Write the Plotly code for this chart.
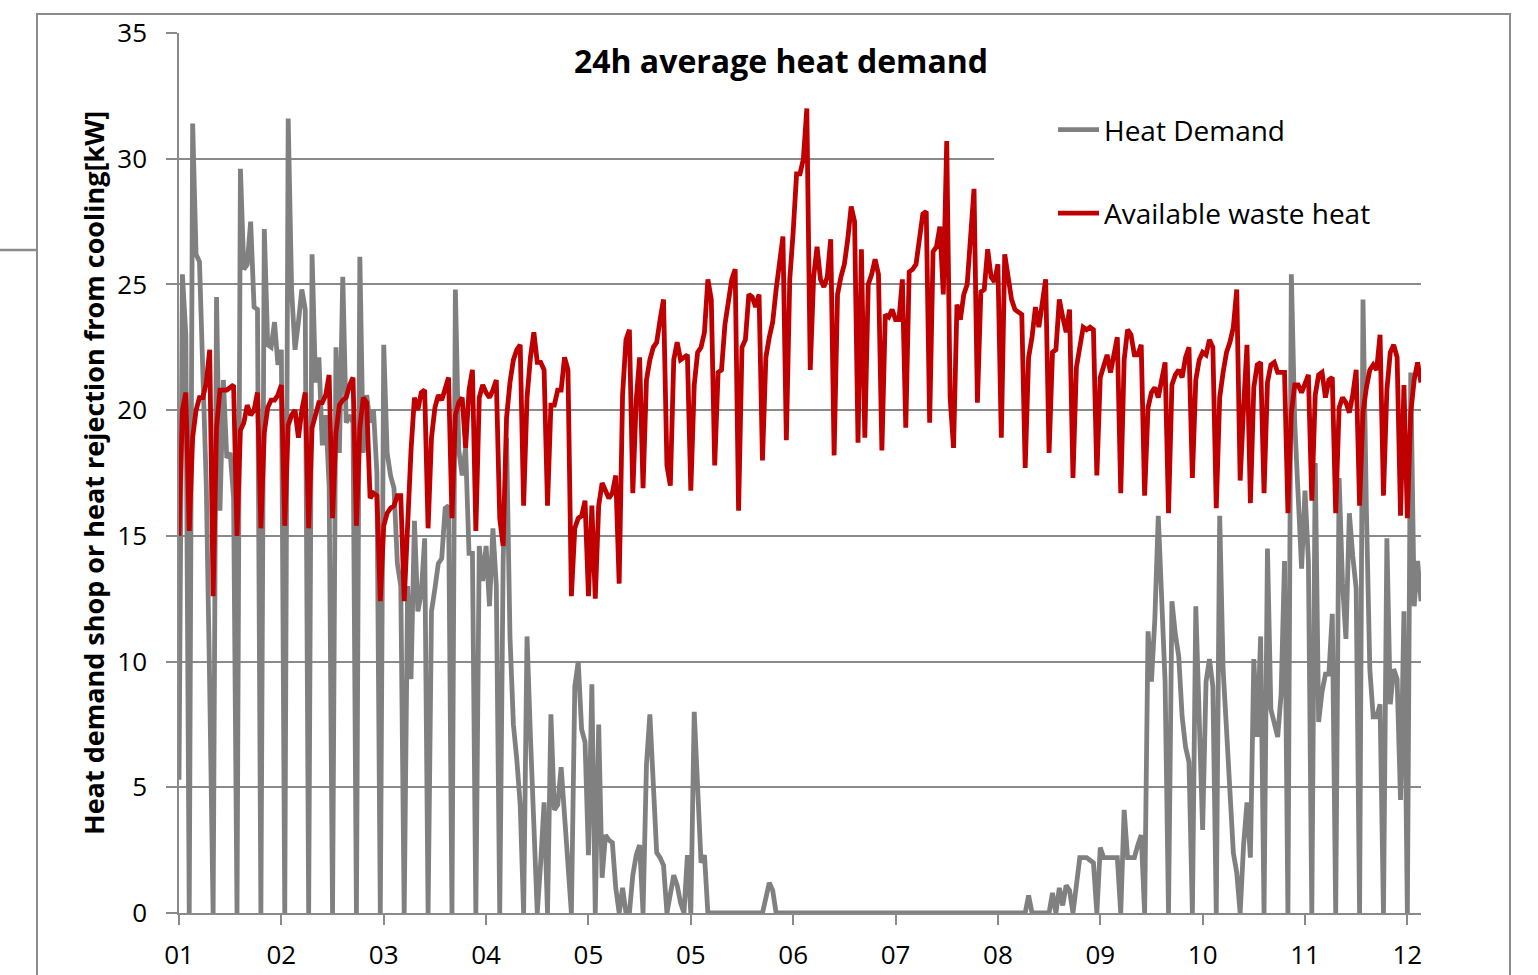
import plotly.graph_objects as go

# Day index of the year (0..364)
days = list(range(365))

# X tick positions (days) and labels
tick_days = [0, 30, 60, 90, 120, 150, 180, 210, 240, 270, 300, 330, 360]
tick_labels = ["01", "02", "03", "04", "05", "05", "06", "07", "08", "09", "10", "11", "12"]

# Available waste heat [kW], 24h average, one value per day
waste_heat = [
    15.0, 20.0, 20.7,
    15.2, 18.9, 20.0, 20.5, 20.5, 21.1, 22.4,
    12.6, 19.3, 20.8, 20.8, 20.8, 20.9, 21.0,
    15.0, 19.2, 19.5, 20.2, 19.8, 20.0, 20.7,
    15.3, 19.1, 20.1, 20.4, 20.4, 20.6, 21.0,
    15.4, 19.4, 19.8, 20.0, 18.9, 20.0, 20.7,
    15.3, 19.3, 19.9, 20.3, 20.3, 20.6, 21.4,
    15.7, 19.1, 20.2, 20.4, 20.5, 21.0, 21.3,
    15.4, 19.3, 20.5, 20.3, 16.5, 16.7, 16.6,
    12.4, 15.4, 15.9, 16.1, 16.2, 16.6, 16.6,
    12.4, 16.0, 18.4, 20.5, 20.0, 20.7, 20.8,
    15.3, 18.9, 20.1, 20.6, 20.4, 20.8, 21.3,
    15.7, 19.8, 20.3, 20.5, 18.5, 20.8, 21.6,
    15.2, 20.5, 21.0, 20.7, 20.5, 20.8, 21.2,
    15.7, 14.6, 19.7, 21.1, 22.0, 22.4, 22.6,
    16.2, 20.5, 22.1, 23.1, 21.9, 21.9, 21.6,
    16.2, 20.2, 20.2, 20.8, 20.8, 22.1, 21.6,
    12.6, 15.3, 15.7, 15.8, 16.4, 12.6, 16.2,
    12.5, 16.2, 17.1, 16.8, 16.5, 16.7, 17.4,
    13.1, 20.6, 22.8, 23.2, 16.7, 20.4, 22.1,
    16.9, 21.2, 22.0, 22.5, 22.7, 23.6, 24.4,
    17.8, 17.0, 22.0, 22.7, 22.0, 22.1, 22.2,
    16.8, 21.0, 22.3, 22.5, 23.1, 25.2, 24.4,
    17.8, 21.5, 21.6, 23.4, 24.3, 25.2, 25.6,
    16.0, 22.5, 22.8, 24.6, 24.5, 24.1, 24.6,
    18.0, 22.1, 22.9, 23.5, 24.8, 26.0, 26.9,
    18.8, 25.2, 27.1, 29.4, 29.4, 30.0, 32.0,
    21.6, 25.3, 26.5, 25.2, 24.9, 25.3, 26.8,
    18.2, 24.6, 25.3, 25.8, 26.8, 28.1, 27.5,
    18.7, 26.4, 18.9, 25.0, 25.4, 26.0, 25.4,
    18.4, 23.8, 23.7, 24.0, 23.6, 23.6, 25.2,
    19.3, 25.5, 25.6, 25.8, 26.8, 27.8, 27.9,
    19.5, 26.3, 26.5, 27.3, 24.6, 30.7, 20.5,
    18.5, 24.2, 23.6, 24.6, 25.0, 26.9, 28.8,
    20.3, 24.7, 24.8, 26.4, 25.3, 25.1, 25.8,
    18.9, 26.2, 25.2, 24.4, 24.0, 23.9, 23.8,
    17.7, 22.1, 22.9, 24.1, 23.3, 24.2, 25.2,
    18.3, 22.3, 22.4, 24.4, 23.7, 23.1, 24.0,
    17.3, 21.7, 22.6, 23.3, 23.2, 23.3, 23.2,
    17.4, 21.3, 21.8, 22.2, 21.5, 22.2, 22.9,
    16.7, 22.0, 23.2, 23.0, 22.2, 22.2, 22.6,
    16.6, 20.1, 20.7, 20.9, 20.5, 21.2, 21.9,
    15.9, 21.0, 21.4, 21.6, 21.3, 22.1, 22.5,
    17.3, 21.2, 22.0, 22.3, 22.2, 22.8, 22.5,
    16.1, 20.5, 21.5, 22.3, 22.7, 23.3, 24.8,
    17.2, 20.1, 22.6, 16.3, 20.9, 21.8, 21.9,
    16.7, 21.1, 21.8, 21.9, 21.5, 21.5, 21.5,
    15.9, 19.9, 21.0, 21.0, 20.7, 21.1, 21.4,
    16.4, 20.6, 21.4, 21.5, 20.5, 21.2, 21.3,
    15.9, 20.1, 20.5, 20.3, 19.9, 20.6, 21.6,
    16.2, 19.9, 20.9, 21.6, 21.8, 21.6, 23.0,
    16.6, 20.8, 22.3, 22.6, 22.1, 15.8, 21.0,
    15.7, 19.9, 21.2, 21.9, 21.1,
]

# Heat demand of the shop [kW], 24h average, one value per day
heat_demand = [
    5.3, 25.4, 23.0,
    0, 31.4, 26.2, 25.9, 21.5, 17.0, 9.0,
    0, 24.5, 16.0, 21.2, 18.1, 18.3, 16.5,
    0, 29.6, 25.6, 25.8, 27.5, 24.1, 24.0,
    0, 27.2, 22.6, 22.5, 23.5, 21.8, 22.4,
    0, 31.6, 24.8, 22.4, 23.5, 24.8, 24.0,
    0, 26.2, 21.1, 22.1, 18.6, 19.8, 17.0,
    0, 22.5, 18.3, 25.3, 19.5, 19.8, 19.5,
    0, 26.1, 18.3, 20.6, 19.5, 20.0, 17.5,
    0, 22.6, 18.3, 17.4, 16.9, 13.9, 13.0,
    0, 13.0, 9.3, 15.6, 12.0, 12.7, 14.9,
    0, 12.0, 12.9, 13.9, 14.1, 16.1, 16.2,
    0, 24.8, 18.4, 17.4, 18.5, 14.3, 14.3,
    0, 14.6, 13.2, 14.6, 12.2, 15.3, 13.0,
    0, 14.0, 18.9, 11.0, 7.5, 6.1, 4.3,
    0, 11.0, 7.0, 3.3, 0, 2.0, 4.4,
    0, 7.9, 4.1, 4.3, 5.8, 3.7, 1.8,
    0, 9.0, 10.0, 7.3, 6.8, 2.3, 9.1,
    0, 7.5, 1.4, 3.1, 2.9, 2.8, 1.0,
    0, 1.0, 0, 0, 1.5, 2.3, 2.7,
    0, 5.9, 7.9, 5.5, 2.4, 2.2, 1.9,
    0, 0.8, 1.5, 1.1, 0.4, 0, 2.3,
    0, 8.0, 5.0, 2.0, 2.3, 0, 0,
    0, 0, 0, 0, 0, 0, 0,
    0, 0, 0, 0, 0, 0, 0,
    0, 0.6, 1.2, 0.9, 0, 0, 0,
    0, 0, 0, 0, 0, 0, 0,
    0, 0, 0, 0, 0, 0, 0,
    0, 0, 0, 0, 0, 0, 0,
    0, 0, 0, 0, 0, 0, 0,
    0, 0, 0, 0, 0, 0, 0,
    0, 0, 0, 0, 0, 0, 0,
    0, 0, 0, 0, 0, 0, 0,
    0, 0, 0, 0, 0, 0, 0,
    0, 0, 0, 0, 0, 0, 0,
    0, 0, 0, 0, 0, 0, 0,
    0, 0.7, 0, 0, 0, 0, 0,
    0, 0.8, 0, 1.0, 0.3, 1.1, 0.9,
    0, 1.2, 2.2, 2.2, 2.2, 2.1, 2.0,
    0, 2.6, 2.2, 2.2, 2.2, 2.2, 2.2,
    0, 4.1, 2.2, 2.2, 2.2, 2.7, 3.1,
    0, 11.2, 9.2, 11.7, 15.8, 12.7, 9.2,
    0, 12.4, 11.1, 10.2, 7.8, 6.6, 6.0,
    0, 12.2, 7.3, 3.3, 9.2, 10.1, 9.0,
    0, 15.8, 9.7, 7.3, 4.8, 2.4, 1.6,
    0, 2.7, 4.4, 2.2, 10.1, 7.0, 11.0,
    0, 14.5, 8.1, 7.6, 7.0, 8.7, 14.0,
    0, 25.4, 19.5, 16.2, 13.7, 16.8, 14.0,
    0, 17.9, 7.6, 8.8, 9.5, 9.5, 11.9,
    0, 17.3, 13.1, 10.9, 15.9, 14.2, 12.9,
    0, 24.4, 16.0, 9.7, 7.8, 7.8, 8.3,
    0, 14.9, 8.3, 9.7, 9.3, 4.5, 12.0,
    0, 21.5, 12.2, 14.0, 12.4,
]

GRID = "#8a8a8a"
FONT = "Open Sans"

fig = go.Figure()
fig.add_trace(go.Scatter(
    x=days, y=heat_demand, mode="lines", name="Heat Demand",
    line=dict(color="#808080", width=4.8), legendgroup="a",
))
fig.add_trace(go.Scatter(
    x=days, y=waste_heat, mode="lines", name="Available waste heat",
    line=dict(color="#C00000", width=4.8), legendgroup="b",
))

W, H = 1538, 975
L, R, T, B = 179, 117, 33, 62
pw, ph = W - L - R, H - T - B


def px(xp):
    return (xp - L) / pw


def py(yp):
    return (H - B - yp) / ph


fig.update_layout(
    width=W, height=H,
    margin=dict(l=L, r=R, t=T, b=B, autoexpand=False),
    paper_bgcolor="white", plot_bgcolor="white",
    font=dict(family=FONT, color="black"),
    showlegend=True,
    legend=dict(
        x=px(1053), y=py(105), xanchor="left", yanchor="top",
        bgcolor="rgba(0,0,0,0)", font=dict(size=28, family=FONT),
        itemwidth=41, tracegroupgap=44,
    ),
    xaxis=dict(
        range=[0, 364], tickmode="array", tickvals=tick_days, ticktext=tick_labels,
        showgrid=False, zeroline=False, showline=True, linecolor=GRID, linewidth=1.5,
        ticks="outside", ticklen=10, tickcolor=GRID, tickwidth=1.5, automargin=False,
        tickfont=dict(size=26, family=FONT, color="black"), ticklabelstandoff=8,
    ),
    yaxis=dict(
        range=[0, 35], dtick=5, showgrid=True, gridcolor=GRID, gridwidth=1.5,
        zeroline=False, showline=True, linecolor=GRID, linewidth=1.5, automargin=False,
        ticks="outside", ticklen=11, tickcolor=GRID, tickwidth=1.5,
        tickfont=dict(size=26, family=FONT, color="black"), ticklabelstandoff=14,
    ),
    title=dict(
        text="<b>24h average heat demand</b>", xref="paper", yref="paper",
        x=px(781), y=py(62), xanchor="center", yanchor="middle",
        font=dict(size=32, family=FONT, color="black"),
    ),
    annotations=[dict(
        text="<b>Heat demand shop or heat rejection from cooling[kW]</b>",
        xref="paper", yref="paper", x=px(93), y=py(473),
        xanchor="center", yanchor="middle", textangle=-90, showarrow=False,
        font=dict(size=27, family=FONT, color="black"),
    )],
    shapes=[
        # white area behind the legend masking the grid line
        dict(type="rect", xref="x", yref="y", x0=238.9, x1=364,
             y0=26.6, y1=32.7, fillcolor="white", line=dict(width=0),
             layer="between"),
        # outer frame of the chart object
        dict(type="rect", xref="paper", yref="paper", x0=px(37), x1=px(1510),
             y0=py(990), y1=py(14), line=dict(color="#8c8c8c", width=2),
             fillcolor="rgba(0,0,0,0)", layer="above"),
        dict(type="line", xref="paper", yref="paper", x0=px(-5), x1=px(37),
             y0=py(250), y1=py(250), line=dict(color="#8c8c8c", width=2.5),
             layer="above"),
    ],
)

fig.write_html("out.html", config={"displayModeBar": False},
               post_script="document.body.style.margin='0';")
